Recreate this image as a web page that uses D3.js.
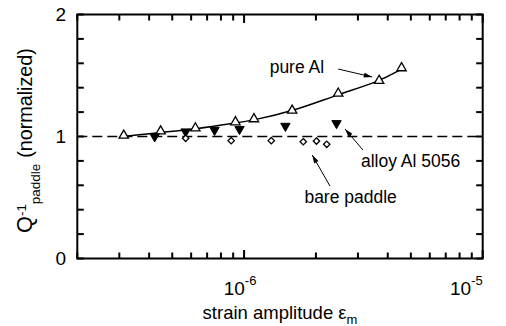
<!DOCTYPE html>
<html>
<head>
<meta charset="utf-8">
<script src="https://cdn.jsdelivr.net/npm/d3@7/dist/d3.min.js"></script>
<style>
  html, body { margin: 0; padding: 0; background: #fff; }
  svg { display: block; font-family: "Liberation Sans", Arial, Helvetica, sans-serif; }
</style>
</head>
<body>
<svg id="chart" width="506" height="326"></svg>
<script>
// ---- data ----
const pureAlStrain  = [3.13e-7, 4.47e-7, 6.25e-7, 9.2e-7, 1.1e-6, 1.59e-6, 2.48e-6, 3.68e-6, 4.57e-6];
const pureAlQ       = [1.00, 1.035, 1.06, 1.11, 1.135, 1.205, 1.345, 1.45, 1.553];
const alloyStrain   = [4.22e-7, 5.69e-7, 7.52e-7, 9.57e-7, 1.49e-6, 2.44e-6];
const alloyQ        = [1.00, 1.04, 1.053, 1.06, 1.086, 1.108];
const bareStrain    = [5.69e-7, 8.83e-7, 1.30e-6, 1.77e-6, 2.01e-6, 2.22e-6];
const bareQ         = [0.985, 0.966, 0.966, 0.957, 0.963, 0.936];
const yTickLabels   = [0, 1, 2];
const xTickLabels   = [{v: 1e-6, base: "10", exp: "-6"}, {v: 1e-5, base: "10", exp: "-5"}];
const referenceLevel = 1;
const annotations = [
  {text: "pure Al",       tx: 1.28e-6, ty: 1.52,  from: [2.48e-6, 1.553], to: [3.44e-6, 1.488]},
  {text: "alloy Al 5056", tx: 3.09e-6, ty: 0.75,  from: [3.15e-6, 0.889], to: [2.65e-6, 1.061]},
  {text: "bare paddle",   tx: 1.79e-6, ty: 0.455, from: [2.29e-6, 0.594], to: [1.93e-6, 0.848]}
];

// ---- layout ----
const svg = d3.select("#chart");
const L = 77.3, R = 482.7, T = 14.5, B = 258.5;
const x = d3.scaleLog().domain([2e-7, 1e-5]).range([L, R]);
const y = d3.scaleLinear().domain([0, 2]).range([B, T]);

const defs = svg.append("defs");
defs.append("marker").attr("id", "arrow").attr("viewBox", "0 0 10 6")
  .attr("refX", 10).attr("refY", 3).attr("markerWidth", 10).attr("markerHeight", 5)
  .attr("markerUnits", "userSpaceOnUse").attr("orient", "auto")
  .append("path").attr("d", "M0,0 L10,3 L0,6 Z").attr("fill", "#000");

// frame
svg.append("rect").attr("x", L).attr("y", T).attr("width", R - L).attr("height", B - T)
  .attr("fill", "none").attr("stroke", "#000").attr("stroke-width", 2);

// ---- ticks (inward on all four sides) ----
const allX = x.ticks();
const isMajor = v => Math.abs(Math.log10(v) - Math.round(Math.log10(v))) < 1e-9;
const yTicks = d3.range(0, 2.0001, 0.2);
const tickG = svg.append("g").attr("stroke", "#000").attr("stroke-width", 2);
[[B, -1], [T, 1]].forEach(([y0, dir]) => {
  tickG.append("g").selectAll("line").data(allX).join("line")
    .attr("x1", d => x(d)).attr("x2", d => x(d))
    .attr("y1", y0).attr("y2", d => y0 + dir * (isMajor(d) ? 8.5 : 6));
});
[[L, 1], [R, -1]].forEach(([x0, dir]) => {
  tickG.append("g").selectAll("line").data(yTicks).join("line")
    .attr("y1", d => y(d)).attr("y2", d => y(d))
    .attr("x1", x0).attr("x2", x0 + dir * 6.5);
});

// y tick labels
svg.append("g").selectAll("text").data(yTickLabels).join("text")
  .attr("x", 66).attr("y", d => y(d)).attr("dy", "0.36em")
  .attr("text-anchor", "end").attr("font-size", 19).text(d => d);

// x tick labels (10^n)
const xl = svg.append("g").selectAll("text").data(xTickLabels).join("text")
  .attr("x", d => x(d.v) - 4).attr("y", 295).attr("text-anchor", "middle").attr("font-size", 19);
xl.append("tspan").text(d => d.base);
xl.append("tspan").attr("font-size", 13).attr("dy", -10).text(d => d.exp);
xl.each(function() {
  const bb = this.getBBox();
  if (bb.x + bb.width > R + 0.5) d3.select(this).attr("x", +d3.select(this).attr("x") - (bb.x + bb.width - R));
});

// axis titles
const xt = svg.append("text").attr("x", (L + R) / 2).attr("y", 319)
  .attr("text-anchor", "middle").attr("font-size", 18.5);
xt.append("tspan").text("strain amplitude \u03b5");
xt.append("tspan").attr("font-size", 13).attr("dy", 5).text("m");

// y title: fit its length to the reference span (from y=233 up to y=48)
const yTop = 48, yBot = 233;
const yt = svg.append("text").attr("text-anchor", "start");
const tQ = yt.append("tspan").text("Q");
const tSup = yt.append("tspan").text("-1");
const tSub = yt.append("tspan").text("paddle");
const tN = yt.append("tspan").text("(normalized)");
function layoutYTitle(fs) {
  const small = fs * 0.68;
  tQ.attr("font-size", fs * 1.1);
  tSup.attr("font-size", small).attr("dy", -fs * 0.30);
  tSub.attr("font-size", small).attr("dy", fs * 0.70);
  tN.attr("font-size", fs).attr("dy", -fs * 0.40).attr("dx", fs * 0.3);
}
layoutYTitle(18);
const w0 = yt.node().getBBox().width;
const fsFit = 18 * (yBot - yTop) / w0;
layoutYTitle(fsFit);
yt.attr("transform", `translate(32,${yBot}) rotate(-90)`);

// reference dashed line
svg.append("line").attr("x1", L).attr("x2", R).attr("y1", y(referenceLevel)).attr("y2", y(referenceLevel))
  .attr("stroke", "#000").attr("stroke-width", 1.4).attr("stroke-dasharray", "10,5");

// smooth curve through pure Al
const pure = pureAlStrain.map((s, i) => [s, pureAlQ[i]]);
svg.append("path").datum(pure)
  .attr("d", d3.line().x(d => x(d[0])).y(d => y(d[1])).curve(d3.curveBasis))
  .attr("fill", "none").attr("stroke", "#000").attr("stroke-width", 1.5);

// markers
const tri = d3.symbol().type(d3.symbolTriangle).size(38);
svg.append("g").selectAll("path").data(pure).join("path")
  .attr("d", tri).attr("transform", d => `translate(${x(d[0])},${y(d[1]) - 1})`)
  .attr("fill", "#fff").attr("stroke", "#000").attr("stroke-width", 1.3);

const alloy = alloyStrain.map((s, i) => [s, alloyQ[i]]);
svg.append("g").selectAll("path").data(alloy).join("path")
  .attr("d", tri).attr("transform", d => `translate(${x(d[0])},${y(d[1])}) rotate(180)`)
  .attr("fill", "#000").attr("stroke", "#000").attr("stroke-width", 1);

const bare = bareStrain.map((s, i) => [s, bareQ[i]]);
svg.append("g").selectAll("path").data(bare).join("path")
  .attr("d", d3.symbol().type(d3.symbolDiamond2).size(26))
  .attr("transform", d => `translate(${x(d[0])},${y(d[1])})`)
  .attr("fill", "#fff").attr("stroke", "#000").attr("stroke-width", 1.3);

// annotations
const ann = svg.append("g");
annotations.forEach(a => {
  ann.append("text").attr("x", x(a.tx)).attr("y", y(a.ty)).attr("font-size", 17.5).text(a.text);
  ann.append("line").attr("x1", x(a.from[0])).attr("y1", y(a.from[1]))
    .attr("x2", x(a.to[0])).attr("y2", y(a.to[1]))
    .attr("stroke", "#000").attr("stroke-width", 1).attr("marker-end", "url(#arrow)");
});
</script>
</body>
</html>
